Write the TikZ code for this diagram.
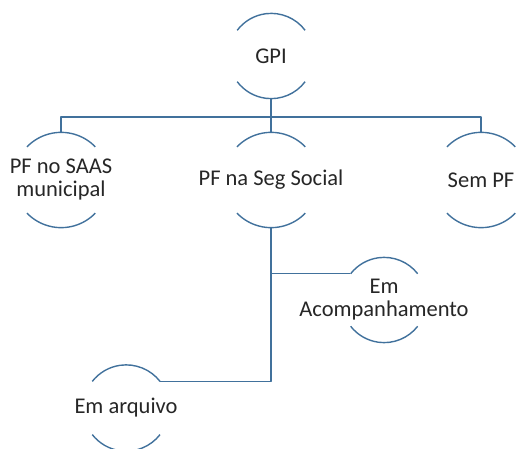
\documentclass[tikz,border=0pt]{standalone}
\usepackage{fontspec}
\setmainfont{Carlito}
\definecolor{ringblue}{RGB}{65,113,156}
\begin{document}
\begin{tikzpicture}[x=1pt,y=1pt,line join=round,
	ring/.style={circle,inner sep=0pt,minimum size=#1},
	lbl/.style={align=center,text=black!85,font=\fontsize{22.5}{23}\selectfont},
	conn/.style={draw=ringblue,line width=1.4pt}]
	\useasboundingbox (0,0) rectangle (516,448);
	\clip (0,0) rectangle (516,448);
	\node[ring=85] (gpi) at (271,392) {};
	\node[ring=95] (saas) at (61,268) {};
	\node[ring=95] (seg) at (271,268) {};
	\node[ring=95] (sem) at (481,268) {};
	\node[ring=85] (acomp) at (384,148) {};
	\node[ring=86] (arquivo) at (126,40) {};
	\node[lbl] (gpi-t) at (gpi) {GPI};
	\node[lbl] (saas-t) at (saas) {PF no SAAS\\municipal};
	\node[lbl] (seg-t) at (seg) {PF na Seg Social};
	\node[lbl] (sem-t) at (sem) {Sem PF};
	\node[lbl] (acomp-t) at (acomp) {Em\\Acompanhamento};
	\node[lbl] (arquivo-t) at (arquivo) {Em arquivo};
	% top and bottom arcs of each ring
	\foreach \n/\a/\r in {gpi/37/42.5,saas/44/47.5,seg/44/47.5,sem/44/47.5,acomp/38/42.5,arquivo/38/43}{
		\draw[conn] (\n.\a) arc[start angle=\a,end angle={180-\a},radius=\r];
		\draw[conn] (\n.-\a) arc[start angle=-\a,end angle={-180+\a},radius=\r];
	}
	\coordinate (bus) at (271,331);
	\draw[conn] (gpi.south)--(bus);
	\draw[conn] (saas.north)|-(bus)-|(sem.north);
	\draw[conn] (bus)--(seg.north);
	\draw[conn] (acomp.142)-|(seg.south);
	\draw[conn] (seg.south)|-(arquivo.38);
\end{tikzpicture}
\end{document}
